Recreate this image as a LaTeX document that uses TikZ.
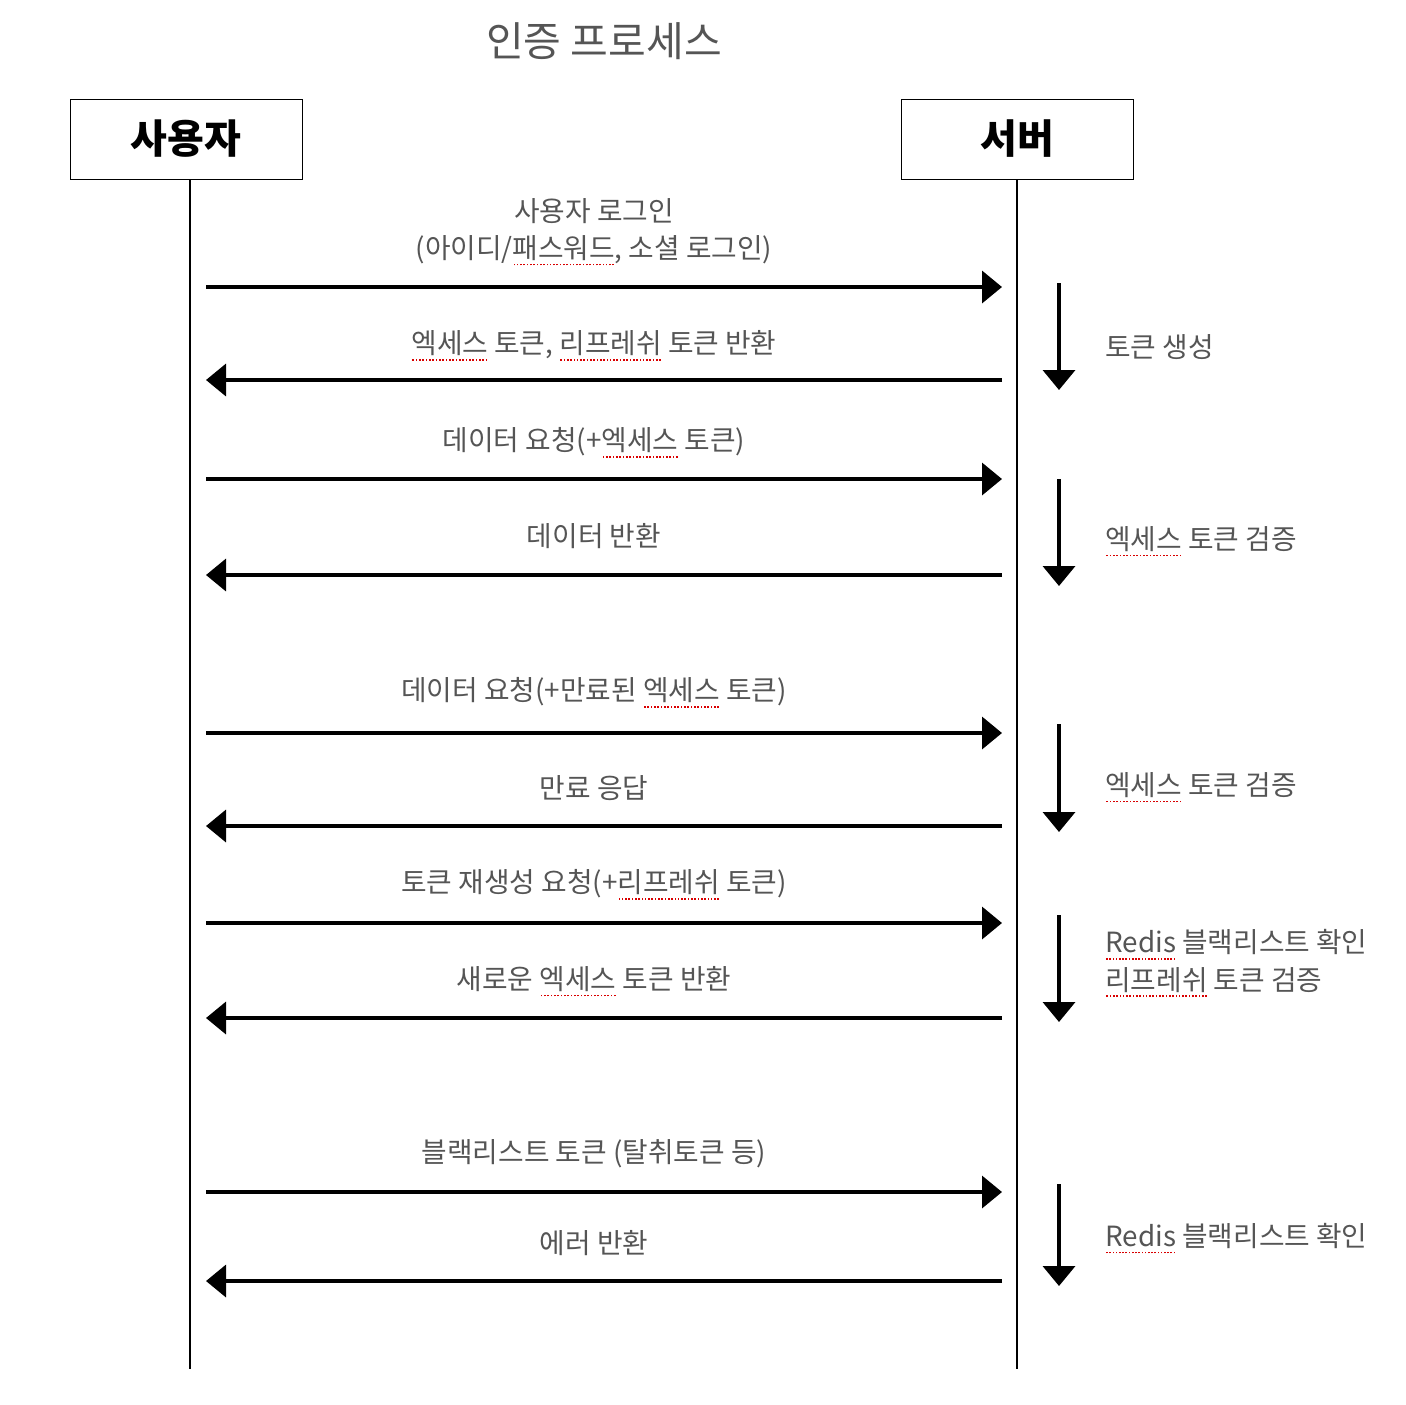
\documentclass[tikz,border=0pt]{standalone}
\usepackage{fontspec}
\setmainfont{Noto Sans CJK KR}
\usetikzlibrary{arrows.meta, positioning}
\definecolor{msggray}{HTML}{555555}
\newsavebox\typobox
\newcommand\typo[1]{\sbox\typobox{#1}\rlap{\raisebox{-0.45ex}[0pt][0pt]{\color{red!85!black}\hbox to \wd\typobox{\xleaders\hbox to 1.6pt{\hss\rule{0.8pt}{0.8pt}\hss}\hfill}}}\usebox\typobox}
\tikzstyle{actor} = [rectangle, draw=black, line width=0.5pt, minimum width=116pt, minimum height=40pt, font=\fontsize{20}{24}\selectfont\bfseries]
\tikzstyle{msg} = [text=msggray, font=\fontsize{13.9}{18.7}\selectfont, align=center, inner sep=0pt]
\tikzstyle{note} = [msg, anchor=west, align=left]
\tikzstyle{life} = [line width=1pt]
\tikzstyle{arrow} = [line width=1.8pt, -{Triangle[length=10pt,width=16pt]}]

\begin{document}
\begin{tikzpicture}[x=0.5pt, y=-0.5pt]
\useasboundingbox (0,0) rectangle (1406,1404);

% Title and actors
\node (title) [text=msggray, font=\fontsize{20.5}{24}\selectfont] at (604,41) {인증 프로세스};
\node (user) [actor] at (186,139) {사용자};
\node (server) [actor] at (1017.5,139) {서버};

% Lifeline ends
\coordinate (uend) at (190,1369);
\coordinate (send) at (1017,1369);

% Message ends
\coordinate (u1) at (206,287);  \coordinate (s1) at (1002,287);
\coordinate (u2) at (206,380);  \coordinate (s2) at (1002,380);
\coordinate (u3) at (206,479);  \coordinate (s3) at (1002,479);
\coordinate (u4) at (206,575);  \coordinate (s4) at (1002,575);
\coordinate (u5) at (206,733);  \coordinate (s5) at (1002,733);
\coordinate (u6) at (206,826);  \coordinate (s6) at (1002,826);
\coordinate (u7) at (206,923);  \coordinate (s7) at (1002,923);
\coordinate (u8) at (206,1018); \coordinate (s8) at (1002,1018);
\coordinate (u9) at (206,1192); \coordinate (s9) at (1002,1192);
\coordinate (u10) at (206,1281); \coordinate (s10) at (1002,1281);

% Server work ends
\coordinate (w1a) at (1059,283);  \coordinate (w1b) at (1059,390);
\coordinate (w2a) at (1059,479);  \coordinate (w2b) at (1059,586);
\coordinate (w3a) at (1059,724);  \coordinate (w3b) at (1059,832);
\coordinate (w4a) at (1059,915);  \coordinate (w4b) at (1059,1022);
\coordinate (w5a) at (1059,1184); \coordinate (w5b) at (1059,1286);

% Message labels
\node (m1) [msg] at (594,231) {사용자 로그인\\(아이디/\typo{패스워드}, 소셜 로그인)};
\node (m2) [msg] at (594,345) {\typo{엑세스} 토큰, \typo{리프레쉬} 토큰 반환};
\node (m3) [msg] at (594,442) {데이터 요청(+\typo{엑세스} 토큰)};
\node (m4) [msg] at (594,536) {데이터 반환};
\node (m5) [msg] at (594,692) {데이터 요청(+만료된 \typo{엑세스} 토큰)};
\node (m6) [msg] at (594,788) {만료 응답};
\node (m7) [msg] at (594,884) {토큰 재생성 요청(+\typo{리프레쉬} 토큰)};
\node (m8) [msg] at (594,979) {새로운 \typo{엑세스} 토큰 반환};
\node (m9) [msg] at (594,1154) {블랙리스트 토큰 (탈취토큰 등)};
\node (m10) [msg] at (594,1243) {에러 반환};

% Server notes
\node (n1) [note] at (1105,347) {토큰 생성};
\node (n2) [note] at (1105,539) {\typo{엑세스} 토큰 검증};
\node (n3) [note] at (1105,785) {\typo{엑세스} 토큰 검증};
\node (n4) [note] at (1105,961) {\typo{Redis} 블랙리스트 확인\\\typo{리프레쉬} 토큰 검증};
\node (n5) [note] at (1105,1236) {\typo{Redis} 블랙리스트 확인};

% Lifelines
\draw [life] (user.south -| uend) -- (uend);
\draw [life] (server.south -| send) -- (send);

% Arrows
\draw [arrow] (u1) -- (s1);
\draw [arrow] (s2) -- (u2);
\draw [arrow] (u3) -- (s3);
\draw [arrow] (s4) -- (u4);
\draw [arrow] (u5) -- (s5);
\draw [arrow] (s6) -- (u6);
\draw [arrow] (u7) -- (s7);
\draw [arrow] (s8) -- (u8);
\draw [arrow] (u9) -- (s9);
\draw [arrow] (s10) -- (u10);

\draw [arrow] (w1a) -- (w1b);
\draw [arrow] (w2a) -- (w2b);
\draw [arrow] (w3a) -- (w3b);
\draw [arrow] (w4a) -- (w4b);
\draw [arrow] (w5a) -- (w5b);

\end{tikzpicture}
\end{document}
